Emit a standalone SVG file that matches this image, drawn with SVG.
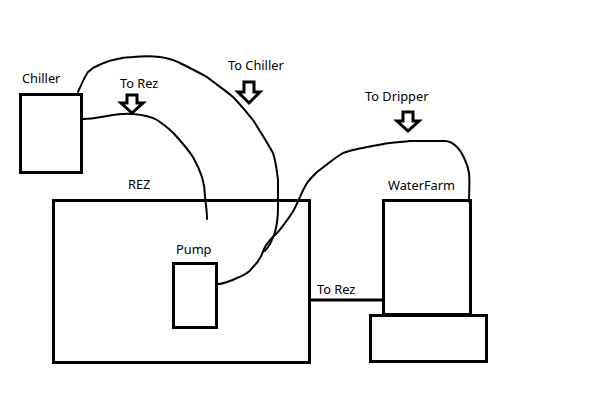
<svg xmlns="http://www.w3.org/2000/svg" width="611" height="401" viewBox="0 0 611 401">
<style>
.box{fill:none;stroke:#000;stroke-width:3}
.pipe{fill:none;stroke:#000;stroke-width:2;stroke-linejoin:round;stroke-linecap:round}
.arrow{fill:#fff;stroke:#000;stroke-width:3;stroke-linejoin:miter}
text{font-family:"Noto Sans","Open Sans","Liberation Sans",sans-serif;font-size:12.8px;fill:#000}
</style>
<rect width="611" height="401" fill="#fff"/>
<g id="connectors">
<path class="pipe" d="M83,119 C95,119 100,117 107,116 C118,114 126,113 133,114 C145,115 152,117 157,120 C166,126 172,131 177,137 C185,146 189,151 193,157 C198,166 200,171 202,177 C205,187 205,192 205,197 C206,205 207,212 207,219"/>
<path class="pipe" d="M78,92 C82,83 85,76 88,72 C91,69 94,67 97,66 C103,63 108,61 113,60 C120,58 126,57 133,57 C143,56 152,56 160,57 C168,58 174,60 180,63 C190,68 198,72 207,77 C217,85 225,90 233,97 C241,105 247,113 253,120 C260,131 267,142 273,153 C276,162 277,171 278,180 C278,189 278,198 278,207 C278,218 277,225 275,232 C273,238 271,243 268,247 L265,251"/>
<path class="pipe" d="M469,202 C469,190 470,180 469,173 C468,167 467,164 465,160 C462,153 460,150 457,147 C453,143 450,141 445,141 C433,141 421,141 410,141 C403,142 397,142 390,143 C382,144 374,146 367,147 C362,148 357,149 353,150 C349,151 346,152 343,153 C338,156 334,159 330,162 C325,166 321,169 317,172 C313,176 310,179 307,183 C304,188 302,192 300,197 C298,201 296,207 292,213 C289,218 287,220 285,223 C282,227 280,230 277,233 C274,236 272,238 270,240 C268,243 266,245 265,247 C263,251 262,255 260,258 C258,262 256,264 253,267 C251,270 249,272 247,273 C244,275 240,277 237,278 C233,280 230,281 227,282 C224,283 222,284 218,284"/>
<line x1="311" y1="300" x2="382" y2="300" stroke="#000" stroke-width="3"/>
</g>
<g id="chiller">
<rect class="box" x="20.5" y="94.5" width="61" height="78"/>
<text x="22" y="83">Chiller</text>
</g>
<g id="rez">
<rect class="box" x="53.5" y="200.5" width="256" height="162"/>
<text x="128" y="189">REZ</text>
</g>
<g id="pump">
<rect class="box" x="173.5" y="263.5" width="43" height="64"/>
<text x="176" y="254">Pump</text>
</g>
<g id="waterfarm">
<rect class="box" x="383.5" y="200.5" width="87" height="114"/>
<rect class="box" x="370.5" y="315.5" width="116" height="46"/>
<text x="388" y="190">WaterFarm</text>
</g>
<g id="label-to-rez-1">
<text x="120" y="88">To Rez</text>
<path class="arrow" d="M127,95 H137 V103 H143 L132,113 L121,103 H127 Z"/>
</g>
<g id="label-to-chiller">
<text x="228" y="70">To Chiller</text>
<path class="arrow" d="M244,82 H254 V92 H260 L249,103 L238,92 H244 Z"/>
</g>
<g id="label-to-dripper">
<text x="365" y="101">To Dripper</text>
<path class="arrow" d="M403,112 H413 V121 H419 L408,131 L397,121 H403 Z"/>
</g>
<g id="label-to-rez-2">
<text x="317" y="294">To Rez</text>
</g>
</svg>
